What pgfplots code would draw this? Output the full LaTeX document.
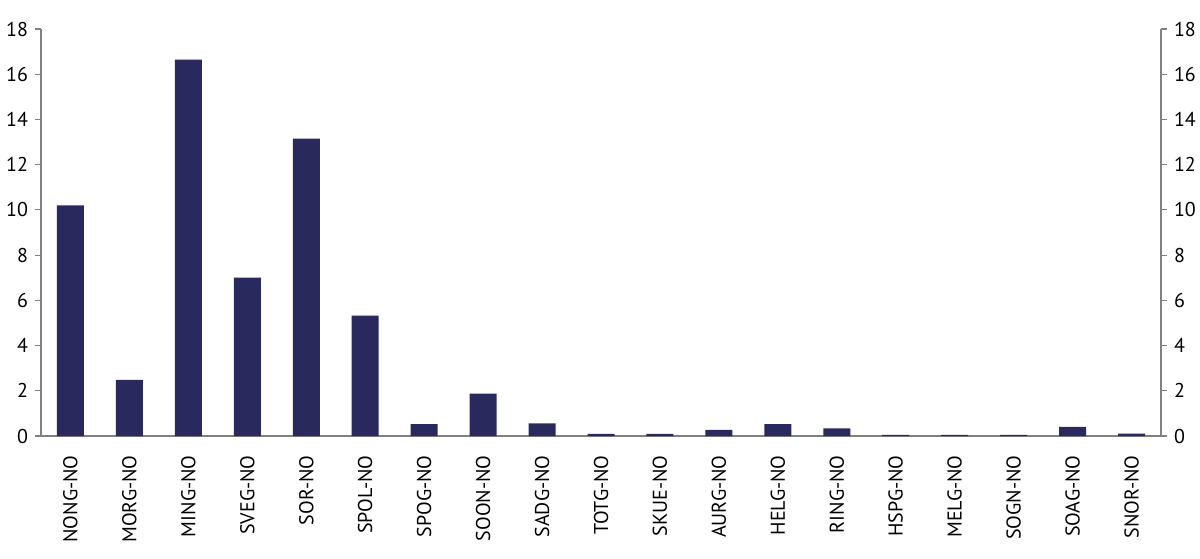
\documentclass[border=0pt]{standalone}
\usepackage{fontspec}
\setmainfont{PT Sans}
\usepackage{pgfplots}
\pgfplotsset{compat=1.18}
\definecolor{barblue}{RGB}{41,41,94}
\definecolor{axisgray}{RGB}{128,128,128}

\begin{document}
\begin{tikzpicture}
\pgfplotsset{
  common/.style={
    scale only axis,
    at={(0pt,0pt)}, anchor=south west,
    width=560pt, height=203.5pt,
    xmin=-0.5, xmax=18.5,
    ymin=0, ymax=18,
    ytick={0,2,...,18},
    tick align=outside,
    major tick length=3pt,
    axis line style={axisgray, line width=0.6pt},
    tick style={axisgray, line width=0.6pt},
    ticklabel style={font=\fontsize{10}{12}\selectfont},
    /pgf/number format/assume math mode=true,
  }
}
\begin{axis}[
  common,
  axis x line*=bottom,
  axis y line*=left,
  xtick={0,...,18},
  xticklabels={NONG-NO,MORG-NO,MING-NO,SVEG-NO,SOR-NO,SPOL-NO,SPOG-NO,SOON-NO,SADG-NO,TOTG-NO,SKUE-NO,AURG-NO,HELG-NO,RING-NO,HSPG-NO,MELG-NO,SOGN-NO,SOAG-NO,SNOR-NO},
  x tick style={draw=none},
  xticklabel style={rotate=90, anchor=east, inner xsep=6.5pt, font=\fontsize{10}{12}\selectfont},
  extra x ticks={-0.5,0.5,...,18.5},
  extra x tick labels={},
  extra x tick style={tick style={axisgray, line width=0.6pt}},
]
  \addplot[ybar, bar width=13.5pt, fill=barblue, draw=none] coordinates {
    (0,10.2) (1,2.48) (2,16.65) (3,7.0) (4,13.15) (5,5.32)
    (6,0.52) (7,1.87) (8,0.56) (9,0.09) (10,0.09) (11,0.27)
    (12,0.52) (13,0.34) (14,0.05) (15,0.05) (16,0.05) (17,0.40) (18,0.10)
  };
\end{axis}
\begin{axis}[
  common,
  axis x line=none,
  axis y line*=right,
]
  \addplot[draw=none] coordinates {(0,0)};
\end{axis}
\pgfresetboundingbox
\path (-20.5pt,-61pt) rectangle (579.5pt,218pt);
\end{tikzpicture}
\end{document}
